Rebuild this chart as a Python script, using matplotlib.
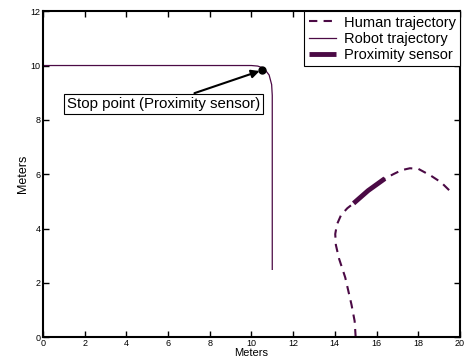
import matplotlib
matplotlib.use("Agg")
import matplotlib.pyplot as plt

plt.rcParams['font.family'] = ['Liberation Sans', 'DejaVu Sans']

# robot path (x, y)
robot_x = [0.0, 10.0, 10.3, 10.6, 10.85, 10.97, 11.0, 11.0]
robot_y = [10.0, 10.0, 9.98, 9.9, 9.65, 9.3, 8.9, 2.5]

# human path
human_x = [15.0, 14.95, 14.8, 14.5, 14.2, 14.05, 14.02, 14.1, 14.3, 14.6, 14.9,
           15.6, 16.4, 16.8, 17.2, 17.6, 18.0, 18.6, 19.1, 19.5]
human_y = [0.0, 0.6, 1.2, 2.2, 2.9, 3.4, 3.8, 4.15, 4.5, 4.75, 4.93,
           5.4, 5.84, 6.0, 6.15, 6.22, 6.2, 5.95, 5.7, 5.4]

# section seen by proximity sensor
sensor_x = [14.9, 15.6, 16.4]
sensor_y = [4.93, 5.4, 5.84]

stop_x, stop_y = 10.52, 9.83

col = '#4b0a45'

fig = plt.figure(figsize=(4.66, 3.6), dpi=100)
ax = fig.add_axes([0.092, 0.063, 0.895, 0.906])

ax.plot(human_x, human_y, color=col, lw=1.5, ls=(0, (4, 3)), label='Human trajectory')
ax.plot(robot_x, robot_y, color=col, lw=0.9, label='Robot trajectory')
ax.plot(sensor_x, sensor_y, color=col, lw=3.5, solid_capstyle='butt', label='Proximity sensor')
ax.plot([stop_x], [stop_y], 'o', color='black', ms=5)

ax.annotate('Stop point (Proximity sensor)', xy=(stop_x, stop_y), xytext=(5.8, 8.6),
            fontsize=10.8, ha='center', va='center',
            bbox=dict(boxstyle='square,pad=0.2', fc='white', ec='black', lw=0.8),
            arrowprops=dict(arrowstyle='-|>', color='black', lw=1.5,
                            mutation_scale=12, shrinkA=0, shrinkB=2))

ax.set_xlim(0, 20)
ax.set_ylim(0, 12)
ax.set_xticks(range(0, 21, 2))
ax.set_yticks(range(0, 13, 2))
ax.tick_params(direction='in', top=True, right=True, labelsize=6.5, length=4, width=1, pad=1.5)
for s in ax.spines.values():
    s.set_linewidth(1.5)

ax.set_xlabel('Meters', fontsize=8, labelpad=0)
ax.set_ylabel('Meters', fontsize=9, labelpad=1)

leg = ax.legend(loc='upper right', fontsize=10.5, frameon=True, fancybox=False,
                edgecolor='black', framealpha=1, borderaxespad=0, labelspacing=0.15,
                handlelength=1.9, borderpad=0.3, handletextpad=0.5)
leg.get_frame().set_linewidth(0.8)

fig.savefig('out.png', dpi=100)
